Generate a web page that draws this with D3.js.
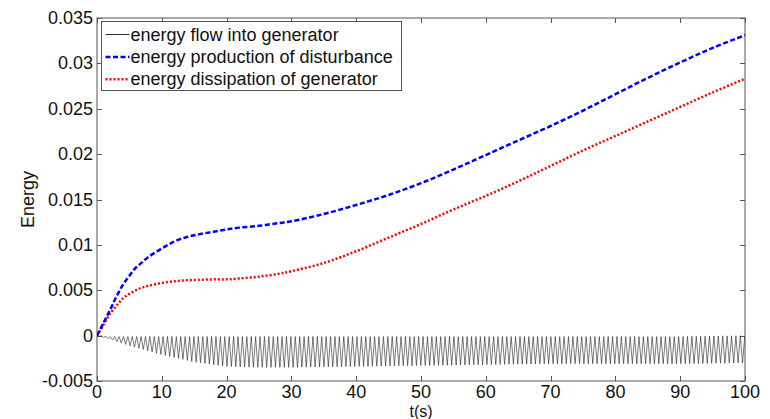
<!DOCTYPE html>
<html>
<head>
<meta charset="utf-8">
<script src="https://cdn.jsdelivr.net/npm/d3@7"></script>
<style>
  body { margin: 0; background: #fff; }
  text { font-family: "Liberation Sans", Arial, sans-serif; }
</style>
</head>
<body>
<svg id="chart"></svg>
<script>
// time samples (s) for the two smooth curves
const T = [0, 1, 2, 3, 4, 5, 6, 7, 8, 10, 12, 14, 16, 18, 20, 22, 25, 28, 30,
           35, 40, 45, 50, 55, 60, 65, 70, 75, 80, 85, 90, 95, 100];

// energy production of disturbance (blue dashed)
const PRODUCTION = [0, 0.0014, 0.0028, 0.0043, 0.0056, 0.0066, 0.0075, 0.0081, 0.0087, 0.0096,
                    0.0104, 0.0109, 0.0112, 0.01145, 0.0117, 0.0119, 0.0121, 0.0124, 0.0126,
                    0.0134, 0.0144, 0.0155, 0.0168, 0.0183, 0.0199, 0.0215, 0.0231, 0.0248,
                    0.0266, 0.0284, 0.0301, 0.0317, 0.0331];

// energy dissipation of generator (red dotted)
const DISSIPATION = [0, 0.0012, 0.0024, 0.0033, 0.0041, 0.0046, 0.0050, 0.0053, 0.0055, 0.0058,
                     0.0060, 0.0061, 0.00615, 0.0062, 0.0062, 0.0063, 0.0065, 0.0068, 0.0071,
                     0.0080, 0.0093, 0.0108, 0.0123, 0.0139, 0.0154, 0.0170, 0.0187, 0.0204,
                     0.0220, 0.0236, 0.0252, 0.0268, 0.0283];

// energy flow into generator (black): oscillation peaks / troughs read from the envelope
const FLOW_T    = [0, 2, 5, 10, 15, 20, 25, 30, 40, 50, 60, 70, 80, 90, 100];
const FLOW_HIGH = [0, -0.0001, -0.0001, -0.0001, -0.0001, -0.0001, -0.0001, -0.0001, -0.0001,
                   -0.0001, -0.0001, -0.0001, -0.0001, -0.0001, 0];
const FLOW_LOW  = [0, -0.0004, -0.0011, -0.0021, -0.0029, -0.0034, -0.0035, -0.0035, -0.0034,
                   -0.0033, -0.0032, -0.0031, -0.0031, -0.0031, -0.0030];
const FLOW_PERIOD = 0.68;

const X_TICKS = [0, 10, 20, 30, 40, 50, 60, 70, 80, 90, 100];
const Y_TICKS = [-0.005, 0, 0.005, 0.01, 0.015, 0.02, 0.025, 0.03, 0.035];
const Y_LABELS = ["-0.005", "0", "0.005", "0.01", "0.015", "0.02", "0.025", "0.03", "0.035"];

const LEGEND = ["energy flow into generator", "energy production of disturbance", "energy dissipation of generator"];

var width = 770, height = 419;
var margin = {top: 18, right: 25, bottom: 38, left: 97};
var w = width - margin.left - margin.right;
var h = height - margin.top - margin.bottom;

var svg = d3.select("#chart").attr("width", width).attr("height", height);
var g = svg.append("g").attr("transform", "translate(" + margin.left + "," + margin.top + ")");

var x = d3.scaleLinear().domain([0, 100]).range([0, w]);
var y = d3.scaleLinear().domain([-0.005, 0.035]).range([h, 0]);

var axisColor = "#555";
var tickLen = 5;

/********* frame + ticks ***********/
g.append("rect").attr("width", w).attr("height", h)
  .attr("fill", "none").attr("stroke", axisColor).attr("stroke-width", 1);

g.selectAll(".xt").data(X_TICKS).enter().append("path")
  .attr("d", function(d) {
    var px = Math.round(x(d)) + 0.5;
    return "M" + px + "," + h + "v" + (-tickLen) + "M" + px + ",0v" + tickLen;
  })
  .attr("stroke", axisColor);

g.selectAll(".yt").data(Y_TICKS).enter().append("path")
  .attr("d", function(d) {
    var py = Math.round(y(d)) + 0.5;
    return "M0," + py + "h" + tickLen + "M" + w + "," + py + "h" + (-tickLen);
  })
  .attr("stroke", axisColor);

g.selectAll(".xl").data(X_TICKS).enter().append("text")
  .attr("x", function(d) { return x(d); })
  .attr("y", h + 17)
  .attr("text-anchor", "middle")
  .attr("font-size", 18)
  .attr("fill", "#111")
  .text(function(d) { return d; });

g.selectAll(".yl").data(Y_TICKS).enter().append("text")
  .attr("x", -4)
  .attr("y", function(d) { return y(d) + 6; })
  .attr("text-anchor", "end")
  .attr("font-size", 18)
  .attr("fill", "#111")
  .text(function(d, i) { return Y_LABELS[i]; });

g.append("text")
  .attr("x", w / 2).attr("y", h + 36)
  .attr("text-anchor", "middle").attr("font-size", 16).attr("fill", "#111")
  .text("t(s)");

g.append("text")
  .attr("transform", "translate(" + (-63) + "," + (h / 2) + ") rotate(-90)")
  .attr("text-anchor", "middle").attr("font-size", 18).attr("fill", "#111")
  .text("Energy");

/********* curves ***********/
var clip = svg.append("defs").append("clipPath").attr("id", "clip");
clip.append("rect").attr("width", w).attr("height", h);
var plot = g.append("g").attr("clip-path", "url(#clip)");

// oscillating flow: alternate between peak and trough envelopes
var hi = d3.scaleLinear().domain(FLOW_T).range(FLOW_HIGH);
var lo = d3.scaleLinear().domain(FLOW_T).range(FLOW_LOW);
var flow = [];
var n = Math.round(100 / FLOW_PERIOD * 2);
for (let k = 0; k <= n; k++) {
  var t = Math.min(100, k * FLOW_PERIOD / 2);
  flow.push({t: t, v: k % 2 == 0 ? hi(t) : lo(t)});
}
plot.append("path")
  .datum(flow)
  .attr("d", d3.line().x(function(d) { return x(d.t); }).y(function(d) { return y(d.v); }))
  .attr("fill", "none")
  .attr("stroke", "#222")
  .attr("stroke-width", 0.6);

var prod = T.map(function(t, i) { return {t: t, v: PRODUCTION[i]}; });
var diss = T.map(function(t, i) { return {t: t, v: DISSIPATION[i]}; });
var smooth = d3.line().curve(d3.curveCatmullRom)
  .x(function(d) { return x(d.t); }).y(function(d) { return y(d.v); });

plot.append("path").datum(diss)
  .attr("d", smooth)
  .attr("fill", "none").attr("stroke", "#ff0000")
  .attr("stroke-width", 2.5).attr("stroke-dasharray", "2,2");

plot.append("path").datum(prod)
  .attr("d", smooth)
  .attr("fill", "none").attr("stroke", "#0000ff")
  .attr("stroke-width", 2.5).attr("stroke-dasharray", "5,2.5");

/********* legend ***********/
var lg = g.append("g").attr("transform", "translate(" + 4.5 + "," + 3.5 + ")");
lg.append("rect").attr("width", 300).attr("height", 69)
  .attr("fill", "#fff").attr("stroke", axisColor);

var styles = [
  {stroke: "#333", width: 1, dash: null},
  {stroke: "#0000ff", width: 2.5, dash: "5,2.5"},
  {stroke: "#ff0000", width: 2.5, dash: "2,2"}
];
LEGEND.forEach(function(label, i) {
  var cy = 13 + i * 22.4;
  lg.append("line")
    .attr("x1", 4).attr("x2", 28).attr("y1", cy).attr("y2", cy)
    .attr("stroke", styles[i].stroke)
    .attr("stroke-width", styles[i].width)
    .attr("stroke-dasharray", styles[i].dash);
  lg.append("text")
    .attr("x", 29).attr("y", cy + 6)
    .attr("font-size", 18).attr("fill", "#111")
    .text(label);
});
</script>
</body>
</html>
